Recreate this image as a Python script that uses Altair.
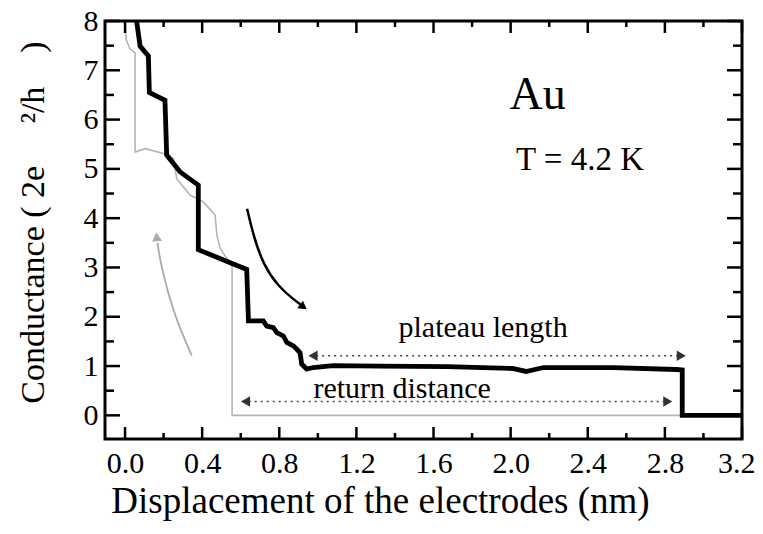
import altair as alt
import pandas as pd

# ---------------- data ----------------
# stretching trace (thick black)
black_x = [0.06, 0.078, 0.121, 0.126, 0.207, 0.216, 0.285, 0.380, 0.380, 0.631, 0.640, 0.717,
           0.735, 0.769, 0.787, 0.821, 0.839, 0.873, 0.891, 0.908, 0.916, 0.942, 0.975, 1.079,
           1.32, 1.67, 2.01, 2.08, 2.17, 2.53, 2.86, 2.89, 2.89, 3.2]
black_y = [8.0, 7.49, 7.29, 6.55, 6.39, 5.28, 4.94, 4.67, 3.36, 2.96, 1.915, 1.915,
           1.81, 1.78, 1.68, 1.61, 1.48, 1.41, 1.34, 1.27, 1.04, 0.94, 0.97, 1.01,
           1.0, 0.99, 0.95, 0.89, 0.97, 0.97, 0.93, 0.92, 0.0, 0.0]

# return trace (thin gray)
gray_x = [0.0, 0.005, 0.026, 0.052, 0.052, 0.104, 0.199, 0.251, 0.268, 0.337, 0.406, 0.467,
          0.476, 0.493, 0.555, 0.555, 2.89]
gray_y = [8.0, 7.63, 7.43, 7.36, 5.34, 5.41, 5.31, 5.21, 4.80, 4.47, 4.33, 4.07,
          3.66, 3.39, 3.02, 0.0, 0.0]

# curved arrows
barrow_x = [0.633, 0.664, 0.716, 0.794, 0.871, 0.934]
barrow_y = [4.19, 3.67, 3.06, 2.62, 2.36, 2.18]
garrow_x = [0.346, 0.268, 0.225, 0.182, 0.168]
garrow_y = [1.21, 1.92, 2.45, 3.13, 3.50]

# arrow heads
head_x = [0.925, 0.164, 0.975, 2.885, 0.625, 2.815]
head_y = [2.20, 3.62, 1.21, 1.21, 0.28, 0.28]
head_angle = [127, 354, 270, 90, 270, 90]
head_kind = ["black", "gray", "dot", "dot", "dot", "dot"]

# dotted double arrows
dot_x1 = [0.96, 0.61]
dot_x2 = [2.90, 2.82]
dot_y = [1.21, 0.28]

# annotations
note_text = ["Au", "T = 4.2 K", "plateau length", "return distance"]
note_x = [2.14, 2.36, 1.857, 1.437]
note_y = [6.49, 5.18, 1.77, 0.54]
note_size = [46, 33, 30, 30]

# axis ticks
x_labels = [0.0, 0.4, 0.8, 1.2, 1.6, 2.0, 2.4, 2.8, 3.2]
x_minor = [0.2, 0.6, 1.0, 1.4, 1.8, 2.2, 2.6, 3.0]
y_labels = [0, 1, 2, 3, 4, 5, 6, 7, 8]
y_minor = [0.5, 1.5, 2.5, 3.5, 4.5, 5.5, 6.5, 7.5]

NB = "\u00a0"
y_title = "Conductance" + NB + "(" + NB + "2e" + NB * 5 + "\u00b2/h" + NB * 4 + ")"

# ---------------- chart ----------------
W, H = 637, 418
FONT = "Liberation Serif"
xs = alt.Scale(domain=[-0.104, 3.2], nice=False, zero=False)
ys = alt.Scale(domain=[-0.48, 8.0], nice=False, zero=False)

x_axis = alt.Axis(values=x_labels, format=".1f", title="Displacement of the electrodes (nm)",
                  grid=False, domain=False, ticks=False, tickSize=0, labelPadding=9,
                  labelFont=FONT, labelFontSize=30, labelColor="black",
                  labelFlush=True, labelFlushOffset=13,
                  titleFont=FONT, titleFontSize=37, titleFontWeight="normal", titleColor="black",
                  titleX=275, titleY=62, titleBaseline="middle")
y_axis = alt.Axis(values=y_labels, format="d", title=y_title,
                  grid=False, domain=False, ticks=False, tickSize=0, labelPadding=7,
                  labelFont=FONT, labelFontSize=30, labelColor="black", labelFlush=False,
                  titleFont=FONT, titleFontSize=34, titleFontWeight="normal", titleColor="black",
                  titleX=-72, titleY=201, titleBaseline="middle")


def X(f):
    return alt.X(f, type="quantitative", scale=xs, axis=x_axis)


def Y(f):
    return alt.Y(f, type="quantitative", scale=ys, axis=y_axis)


df_black = pd.DataFrame({"x": black_x, "y": black_y, "i": range(len(black_x))})
df_gray = pd.DataFrame({"x": gray_x, "y": gray_y, "i": range(len(gray_x))})
df_barrow = pd.DataFrame({"x": barrow_x, "y": barrow_y, "i": range(len(barrow_x))})
df_garrow = pd.DataFrame({"x": garrow_x, "y": garrow_y, "i": range(len(garrow_x))})
df_heads = pd.DataFrame({"x": head_x, "y": head_y, "a": head_angle, "k": head_kind})
df_dots = pd.DataFrame({"x1": dot_x1, "x2": dot_x2, "y": dot_y})
df_notes = pd.DataFrame({"x": note_x, "y": note_y, "t": note_text, "s": note_size})

gray = alt.Chart(df_gray).mark_line(color="#b4b4b4", strokeWidth=1.6, clip=True).encode(
    x=X("x"), y=Y("y"), order="i:Q")
black = alt.Chart(df_black).mark_line(color="black", strokeWidth=4.8, clip=True).encode(
    x=X("x"), y=Y("y"), order="i:Q")
barrow = alt.Chart(df_barrow).mark_line(color="black", strokeWidth=2.5, interpolate="basis").encode(
    x=X("x"), y=Y("y"), order="i:Q")
garrow = alt.Chart(df_garrow).mark_line(color="#aaaaaa", strokeWidth=1.8, interpolate="basis").encode(
    x=X("x"), y=Y("y"), order="i:Q")
heads = alt.Chart(df_heads).mark_point(shape="triangle-up", filled=True, opacity=1).encode(
    x=X("x"), y=Y("y"),
    angle=alt.Angle("a:Q", scale=None),
    color=alt.Color("k:N", scale=alt.Scale(domain=["black", "gray", "dot"],
                                           range=["black", "#aaaaaa", "#333333"]), legend=None),
    size=alt.Size("k:N", scale=alt.Scale(domain=["black", "gray", "dot"], range=[90, 110, 45]), legend=None))
dots = alt.Chart(df_dots).mark_rule(color="#444444", strokeWidth=1.6, strokeDash=[2, 4]).encode(
    x=X("x1"), x2="x2", y=Y("y"))
notes = alt.Chart(df_notes).mark_text(font=FONT, color="black", align="center", baseline="middle").encode(
    x=X("x"), y=Y("y"), text="t:N", size=alt.Size("s:Q", scale=None))

df_xmaj = pd.DataFrame({"v": x_labels})
df_xmin = pd.DataFrame({"v": x_minor})
df_ymaj = pd.DataFrame({"v": y_labels})
df_ymin = pd.DataFrame({"v": y_minor})

tk = dict(color="black", strokeWidth=2.5)
ticks = [
    alt.Chart(df_xmaj).mark_rule(**tk).encode(x=X("v"), y=alt.value(H), y2=alt.value(H - 12)),
    alt.Chart(df_xmin).mark_rule(**tk).encode(x=X("v"), y=alt.value(H), y2=alt.value(H - 6)),
    alt.Chart(df_xmaj).mark_rule(**tk).encode(x=X("v"), y=alt.value(0), y2=alt.value(12)),
    alt.Chart(df_xmin).mark_rule(**tk).encode(x=X("v"), y=alt.value(0), y2=alt.value(6)),
    alt.Chart(df_ymaj).mark_rule(**tk).encode(y=Y("v"), x=alt.value(0), x2=alt.value(15)),
    alt.Chart(df_ymin).mark_rule(**tk).encode(y=Y("v"), x=alt.value(0), x2=alt.value(9)),
    alt.Chart(df_ymaj).mark_rule(**tk).encode(y=Y("v"), x=alt.value(W), x2=alt.value(W - 15)),
    alt.Chart(df_ymin).mark_rule(**tk).encode(y=Y("v"), x=alt.value(W), x2=alt.value(W - 9)),
]

chart = alt.layer(gray, black, barrow, garrow, dots, heads, notes, *ticks).properties(
    width=W, height=H,
    padding={"left": 97, "top": 13, "right": 13, "bottom": 87},
    autosize=alt.AutoSizeParams(type="none"),
    background="white",
).configure_view(stroke="black", strokeWidth=3)

chart.save("out.html", embed_options={"renderer": "svg", "actions": False})
